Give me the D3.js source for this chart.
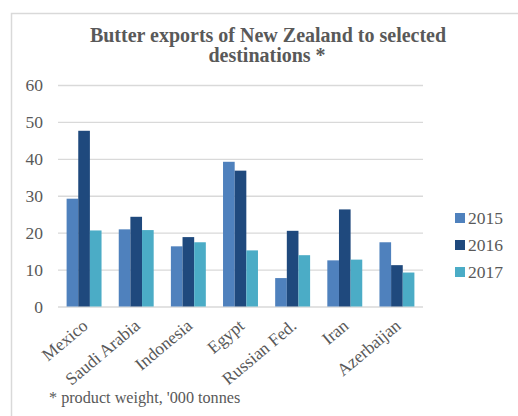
<!DOCTYPE html>
<html>
<head>
<meta charset="utf-8">
<script src="https://cdn.jsdelivr.net/npm/d3@7"></script>
<style>
  html, body { margin: 0; padding: 0; background: #fff; }
  svg { display: block; font-family: "Liberation Serif", "Times New Roman", serif; }
</style>
</head>
<body>
<svg id="chart" width="518" height="416"></svg>
<script>
// Butter exports ('000 tonnes, product weight) by destination and year
const categories = ["Mexico", "Saudi Arabia", "Indonesia", "Egypt", "Russian Fed.", "Iran", "Azerbaijan"];
const years = ["2015", "2016", "2017"];
const values2015 = [29.2, 20.9, 16.3, 39.2, 7.7, 12.5, 17.4];
const values2016 = [47.6, 24.3, 18.8, 36.8, 20.5, 26.3, 11.2];
const values2017 = [20.6, 20.7, 17.4, 15.2, 13.9, 12.7, 9.2];
const yTicks = [0, 10, 20, 30, 40, 50, 60];
const colors = ["#4F81BD", "#1F497D", "#4BACC6"];

const series = [values2015, values2016, values2017];
const textColor = "#595959";

const svg = d3.select("#chart");

// outer chart frame
svg.append("rect")
  .attr("x", 11.5).attr("y", 13.5)
  .attr("width", 520).attr("height", 420)
  .attr("fill", "#fff").attr("stroke", "#d9d9d9").attr("stroke-width", 1.5);

const plot = { left: 58, right: 423, top: 85, bottom: 306.5 };

const x = d3.scaleBand()
  .domain(categories)
  .range([plot.left, plot.right])
  .paddingInner(0.33)
  .paddingOuter(0.165);

const xSub = d3.scaleBand()
  .domain(years)
  .range([0, x.bandwidth()]);

const y = d3.scaleLinear()
  .domain([0, 60])
  .range([plot.bottom, plot.top]);

// horizontal gridlines and value labels
const yAxis = d3.axisLeft(y)
  .tickValues(yTicks)
  .tickSize(-(plot.right - plot.left))
  .tickPadding(15);

const gy = svg.append("g")
  .attr("transform", `translate(${plot.left},0)`)
  .call(yAxis);
gy.select(".domain").remove();
gy.selectAll(".tick line").attr("stroke", "#d9d9d9").attr("stroke-width", 1.3);
gy.selectAll(".tick text")
  .attr("fill", textColor)
  .attr("font-size", 17.5)
  .attr("font-family", "Liberation Serif, serif");

// bars
const groups = svg.append("g").selectAll("g")
  .data(categories)
  .join("g")
  .attr("transform", d => `translate(${x(d)},0)`);

groups.selectAll("rect")
  .data((d, i) => years.map((yr, k) => ({ year: yr, value: series[k][i], k })))
  .join("rect")
  .attr("x", d => xSub(d.year))
  .attr("width", xSub.bandwidth())
  .attr("y", d => y(d.value))
  .attr("height", d => y(0) - y(d.value))
  .attr("fill", d => colors[d.k]);

// category labels along the base line
const xAxis = d3.axisBottom(x).tickSize(0).tickPadding(0);
const gx = svg.append("g")
  .attr("transform", `translate(0,${plot.bottom})`)
  .call(xAxis);
gx.select(".domain").remove();
gx.selectAll(".tick text")
  .attr("fill", textColor)
  .attr("font-size", 17.5)
  .attr("font-family", "Liberation Serif, serif")
  .attr("text-anchor", "end")
  .attr("dy", 0)
  .attr("transform", "translate(5,21) rotate(-40)");

// title
const title = svg.append("text")
  .attr("text-anchor", "middle")
  .attr("fill", textColor)
  .attr("font-size", 20)
  .attr("font-weight", "bold");
title.append("tspan").attr("x", 268).attr("y", 42).text("Butter exports of New Zealand to selected");
title.append("tspan").attr("x", 267).attr("y", 62).text("destinations *");

// legend
const legend = svg.append("g").selectAll("g")
  .data(years)
  .join("g")
  .attr("transform", (d, i) => `translate(455,${213 + i * 27})`);
legend.append("rect")
  .attr("width", 10).attr("height", 10)
  .attr("fill", (d, i) => colors[i]);
legend.append("text")
  .attr("x", 13).attr("y", 10.5)
  .attr("fill", textColor)
  .attr("font-size", 17.5)
  .text(d => d);

// footnote
svg.append("text")
  .attr("x", 49).attr("y", 403)
  .attr("fill", textColor)
  .attr("font-size", 16.2)
  .text("* product weight, '000 tonnes");
</script>
</body>
</html>
